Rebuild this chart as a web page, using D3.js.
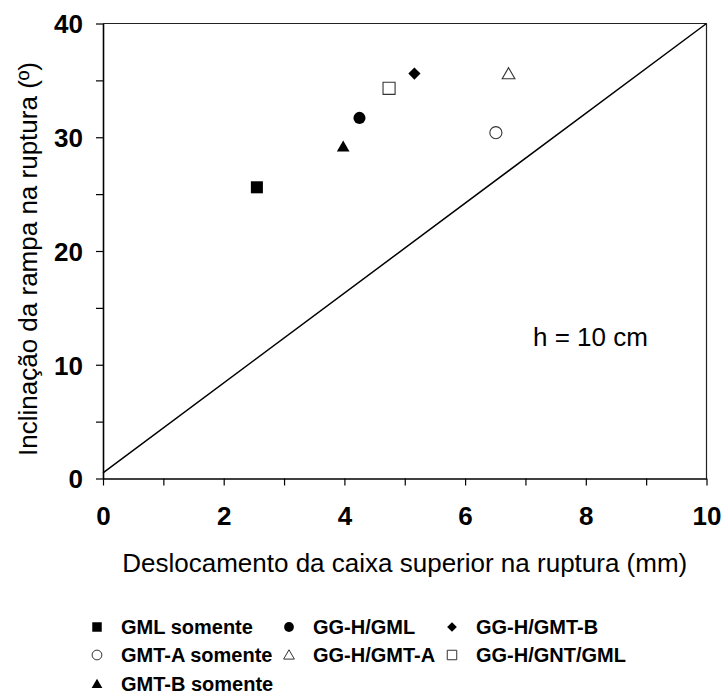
<!DOCTYPE html>
<html>
<head>
<meta charset="utf-8">
<script src="https://cdn.jsdelivr.net/npm/d3@7"></script>
<style>
  html, body { margin: 0; padding: 0; background: #fff; }
  svg { display: block; font-family: "Liberation Sans", Arial, sans-serif; }
</style>
</head>
<body>
<svg id="chart" width="723" height="698"></svg>
<script>
// ---- data ----
const seriesNames = ["GML somente", "GG-H/GML", "GG-H/GMT-B", "GMT-A somente", "GG-H/GMT-A", "GG-H/GNT/GML", "GMT-B somente"];
const seriesSymbols = ["square", "circle", "diamond", "circle", "triangle", "square", "triangle"];
const seriesFilled = [true, true, true, false, false, false, true];
const xValues = [2.55, 4.25, 5.16, 6.51, 6.72, 4.74, 3.98];
const yValues = [25.6, 31.7, 35.6, 30.4, 35.6, 34.3, 29.2];
const refLineX = [0, 10];
const refLineY = [0.5, 40];
const xTicks = [0, 2, 4, 6, 8, 10];
const yTicks = [0, 10, 20, 30, 40];
const xTitle = "Deslocamento da caixa superior na ruptura (mm)";
const yTitle = "Inclinação da rampa na ruptura (º)";
const annotation = "h = 10 cm";

(function () {
// ---- layout ----
const svg = d3.select("#chart");
const pL = 103, pR = 706.5, pT = 23.5, pB = 478.5;
const x = d3.scaleLinear().domain([0, 10]).range([pL, pR]);
const y = d3.scaleLinear().domain([0, 40]).range([pB, pT]);

const symType = { square: d3.symbolSquare, circle: d3.symbolCircle, diamond: d3.symbolDiamond2, triangle: d3.symbolTriangle };
function symPath(name, size) {
  return d3.symbol().type(symType[name]).size(size)();
}
const plotSizes = { square: 145, circle: 115, diamond: 95, triangle: 70 };
const legSizes = { square: 90, circle: 75, diamond: 60, triangle: 50 };

// frame (top + right)
svg.append("line").attr("x1", pL).attr("x2", pR).attr("y1", pT).attr("y2", pT)
  .attr("stroke", "#222").attr("stroke-width", 1.2);
svg.append("line").attr("x1", pR).attr("x2", pR).attr("y1", pT).attr("y2", pB)
  .attr("stroke", "#222").attr("stroke-width", 1.2);

// axes
const xAxis = d3.axisBottom(x).tickValues(d3.range(0, 11, 1)).tickSize(7).tickSizeOuter(0)
  .tickFormat(d => xTicks.includes(d) ? d : "");
const gx = svg.append("g").attr("transform", `translate(0,${pB})`).call(xAxis);
gx.select(".domain").attr("stroke", "#000").attr("stroke-width", 1.6);
gx.selectAll(".tick line").attr("stroke", "#000").attr("stroke-width", 1.2);
gx.selectAll(".tick text").attr("font-size", 26).attr("font-weight", "bold")
  .attr("fill", "#000").attr("y", 28).attr("dy", "0.71em").attr("font-family", "Liberation Sans, Arial, sans-serif");

const yAxis = d3.axisLeft(y).tickValues(d3.range(0, 41, 5)).tickSize(7).tickSizeOuter(0)
  .tickFormat(d => yTicks.includes(d) ? d : "");
const gy = svg.append("g").attr("transform", `translate(${pL},0)`).call(yAxis);
gy.select(".domain").attr("stroke", "#000").attr("stroke-width", 1.6);
gy.selectAll(".tick line").attr("stroke", "#000").attr("stroke-width", 1.2);
gy.selectAll(".tick text").attr("font-size", 26).attr("font-weight", "bold")
  .attr("fill", "#000").attr("x", -20).attr("dy", "0.36em").attr("font-family", "Liberation Sans, Arial, sans-serif");

// reference line
svg.append("line")
  .attr("x1", x(refLineX[0])).attr("y1", y(refLineY[0]))
  .attr("x2", x(refLineX[1])).attr("y2", y(refLineY[1]))
  .attr("stroke", "#000").attr("stroke-width", 1.5);

// points
seriesNames.forEach((name, i) => {
  const s = seriesSymbols[i];
  const filled = seriesFilled[i];
  svg.append("path")
    .attr("d", symPath(s, plotSizes[s]))
    .attr("transform", `translate(${x(xValues[i])},${y(yValues[i]) + (s === "triangle" ? 1.5 : 0)})`)
    .attr("fill", filled ? "#000" : "#fff")
    .attr("stroke", filled ? "none" : "#333")
    .attr("stroke-width", 1.1);
});

// annotation
svg.append("text").attr("x", 533).attr("y", 346)
  .attr("font-size", 26).attr("fill", "#000").text(annotation);

// axis titles
svg.append("text").attr("x", (pL + pR) / 2).attr("y", 572)
  .attr("text-anchor", "middle").attr("font-size", 26).attr("fill", "#000").text(xTitle);
svg.append("text").attr("transform", `translate(37,${(pT + pB) / 2 + 8}) rotate(-90)`)
  .attr("text-anchor", "middle").attr("font-size", 26).attr("fill", "#000").text(yTitle);

// legend
const legCols = [97, 289, 452];
const legRows = [627, 655, 684];
seriesNames.forEach((name, i) => {
  const col = i % 3, row = Math.floor(i / 3);
  const cx = legCols[col], cy = legRows[row];
  const s = seriesSymbols[i];
  const filled = seriesFilled[i];
  svg.append("path")
    .attr("d", symPath(s, legSizes[s]))
    .attr("transform", `translate(${cx},${cy + (s === "triangle" ? 1 : 0)})`)
    .attr("fill", filled ? "#000" : "#fff")
    .attr("stroke", filled ? "none" : "#333")
    .attr("stroke-width", 1);
  svg.append("text").attr("x", cx + 24).attr("y", cy).attr("dy", "0.36em")
    .attr("font-size", 20).attr("font-weight", "bold").attr("fill", "#000").text(name);
});
})();
</script>
</body>
</html>
